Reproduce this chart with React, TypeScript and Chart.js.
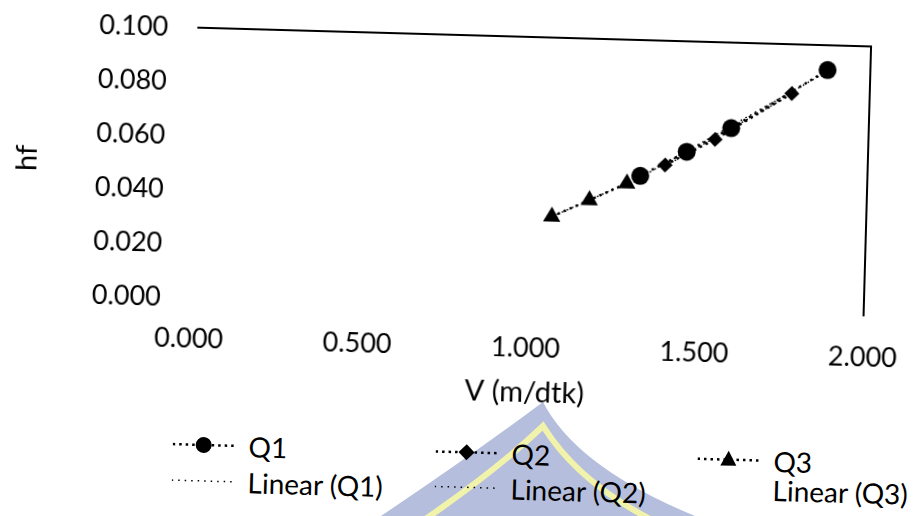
import React, { useEffect, useRef } from "react";
import { Chart, registerables } from "chart.js";

Chart.register(...registerables);

// ---- data ----
const q1V = [1.326, 1.462, 1.592, 1.873];
const q1Hf = [0.0497, 0.0591, 0.0683, 0.0908];
const q2V = [1.399, 1.545, 1.769];
const q2Hf = [0.054, 0.064, 0.0818];
const q3V = [1.067, 1.177, 1.287];
const q3Hf = [0.0337, 0.0402, 0.0468];

const seriesNames = ["Q1", "Q2", "Q3"];
const trendNames = ["Linear (Q1)", "Linear (Q2)", "Linear (Q3)"];
const xAxisTitle = "V (m/dtk)";
const yAxisTitle = "hf";
const xMin = 0;
const xMax = 2;
const xStep = 0.5;
const yMin = 0;
const yMax = 0.1;
const yStep = 0.02;

const FONT = "Lato, 'Open Sans', sans-serif";

function toPoints(xs: number[], ys: number[]) {
  return xs.map((x, i) => ({ x, y: ys[i] }));
}

// least-squares linear trendline over the range of the series (like Excel's "Linear" trendline)
function linearTrend(xs: number[], ys: number[]) {
  const n = xs.length;
  const mx = xs.reduce((a, b) => a + b, 0) / n;
  const my = ys.reduce((a, b) => a + b, 0) / n;
  let sxy = 0;
  let sxx = 0;
  for (let i = 0; i < n; i++) {
    sxy += (xs[i] - mx) * (ys[i] - my);
    sxx += (xs[i] - mx) * (xs[i] - mx);
  }
  const b = sxy / sxx;
  const a = my - b * mx;
  const lo = Math.min(...xs);
  const hi = Math.max(...xs);
  return [
    { x: lo, y: a + b * lo },
    { x: hi, y: a + b * hi },
  ];
}

const plotBorder = {
  id: "plotBorder",
  afterDatasetsDraw(chart: any) {
    const { ctx, chartArea } = chart;
    const { left, right, top, bottom } = chartArea;
    ctx.save();
    ctx.strokeStyle = "#000";
    ctx.lineWidth = 2;
    ctx.beginPath();
    ctx.moveTo(left, top);
    ctx.lineTo(right, top);
    ctx.lineTo(right, bottom);
    ctx.stroke();
    ctx.restore();
  },
};

function zeroScalePadding(s: any) {
  s.paddingTop = 0;
  s.paddingBottom = 0;
  s.paddingLeft = 0;
  s.paddingRight = 0;
}

const markerStyles = ["circle", "rectRot", "triangle"];
const markerRadius = [9, 7.5, 10];

function LegendSample({ marker, dense }: { marker: string | null; dense: boolean }) {
  return (
    <svg width={62} height={24} style={{ display: "block", flex: "none" }}>
      <line
        x1={0}
        y1={12}
        x2={62}
        y2={12}
        stroke="#000"
        strokeWidth={dense ? 2.5 : 1.5}
        strokeDasharray={dense ? "2.5 4" : "1.5 5"}
      />
      {marker === "circle" && <circle cx={31} cy={12} r={8} fill="#000" />}
      {marker === "rectRot" && <polygon points="31,4 39,12 31,20 23,12" fill="#000" />}
      {marker === "triangle" && <polygon points="31,3 39,18 23,18" fill="#000" />}
    </svg>
  );
}

export default function App() {
  const canvasRef = useRef<HTMLCanvasElement | null>(null);

  useEffect(() => {
    const canvas = canvasRef.current;
    if (!canvas) return;
    const seriesX = [q1V, q2V, q3V];
    const seriesY = [q1Hf, q2Hf, q3Hf];
    const datasets: any[] = [];
    for (let i = 0; i < 3; i++) {
      datasets.push({
        label: seriesNames[i],
        data: toPoints(seriesX[i], seriesY[i]),
        showLine: true,
        borderColor: "#000",
        borderWidth: 2.5,
        borderDash: [2.5, 4],
        pointStyle: markerStyles[i],
        pointRadius: markerRadius[i],
        pointBackgroundColor: "#000",
        pointBorderColor: "#000",
        pointBorderWidth: 0,
      });
    }
    for (let i = 0; i < 3; i++) {
      datasets.push({
        label: trendNames[i],
        data: linearTrend(seriesX[i], seriesY[i]),
        showLine: true,
        borderColor: "#000",
        borderWidth: 1.5,
        borderDash: [1.5, 4],
        pointRadius: 0,
        pointHoverRadius: 0,
      });
    }

    const chart = new Chart(canvas, {
      type: "scatter",
      data: { datasets },
      plugins: [plotBorder],
      options: {
        responsive: false,
        animation: false,
        layout: { padding: { left: 0, right: 50, top: 35, bottom: 0 } },
        plugins: {
          legend: { display: false },
          tooltip: { enabled: false },
        },
        scales: {
          x: {
            type: "linear",
            min: xMin,
            max: xMax,
            grid: { display: false, drawTicks: false },
            border: { display: false },
            ticks: {
              stepSize: xStep,
              padding: 25,
              color: "#000",
              font: { family: FONT, size: 27 },
              callback: (v: any) => Number(v).toFixed(3),
            },
            title: {
              display: true,
              text: xAxisTitle,
              color: "#000",
              font: { family: FONT, size: 29 },
              padding: { top: 0, bottom: 0 },
            },
            afterFit: (s: any) => {
              s.height = 103;
              zeroScalePadding(s);
            },
          },
          y: {
            type: "linear",
            min: yMin,
            max: yMax,
            grid: { display: false, drawTicks: false },
            border: { display: false },
            ticks: {
              stepSize: yStep,
              padding: 29,
              color: "#000",
              font: { family: FONT, size: 27 },
              callback: (v: any) => Number(v).toFixed(3),
            },
            title: {
              display: true,
              text: yAxisTitle,
              color: "#000",
              font: { family: FONT, size: 29 },
              padding: { top: 7, bottom: 0 },
            },
            afterFit: (s: any) => {
              s.width = 191;
              zeroScalePadding(s);
            },
          },
        },
      },
    } as any);
    return () => chart.destroy();
  }, []);

  const colX = [178, 441, 703];
  const row1Y = [452, 452, 452];
  const row2Y = [488, 487, 481];
  const legendItems: { left: number; top: number; text: string; marker: string | null; dense: boolean; sample: boolean }[] = [];
  for (let i = 0; i < 3; i++) {
    legendItems.push({ left: colX[i], top: row1Y[i], text: seriesNames[i], marker: markerStyles[i], dense: true, sample: true });
    legendItems.push({ left: colX[i], top: row2Y[i], text: trendNames[i], marker: null, dense: false, sample: i < 2 });
  }

  return (
    <div
      style={{
        position: "fixed",
        left: 0,
        top: 0,
        width: 915,
        height: 516,
        background: "#fff",
        overflow: "hidden",
      }}
    >
      <svg
        width={915}
        height={516}
        style={{ position: "absolute", left: 0, top: 0 }}
      >
        <path d="M 543 402 Q 578 470 705 520 L 375 520 Q 472 455 543 402 Z" fill="#b5bfdd" />
        <path
          d="M 424 520 Q 497 470 543 426 Q 578 482 652 520"
          fill="none"
          stroke="#f2f3aa"
          strokeWidth={6}
        />
      </svg>
      <div
        style={{
          position: "absolute",
          left: 0,
          top: 0,
          width: 915,
          height: 516,
          transform: "rotate(1.6deg)",
          transformOrigin: "457.5px 258px",
        }}
      >
        <canvas
          ref={canvasRef}
          width={915}
          height={408}
          style={{ position: "absolute", left: 0, top: 0, width: 915, height: 408 }}
        />
        {legendItems.map((it, k) => (
          <div
            key={k}
            style={{
              position: "absolute",
              left: it.left,
              top: it.top - 17,
              height: 34,
              display: "flex",
              alignItems: "center",
              fontFamily: FONT,
              fontSize: 28,
              color: "#000",
              whiteSpace: "nowrap",
            }}
          >
            {it.sample ? <LegendSample marker={it.marker} dense={it.dense} /> : <div style={{ width: 62, flex: "none" }} />}
            <span style={{ marginLeft: 14 }}>{it.text}</span>
          </div>
        ))}
      </div>
    </div>
  );
}
